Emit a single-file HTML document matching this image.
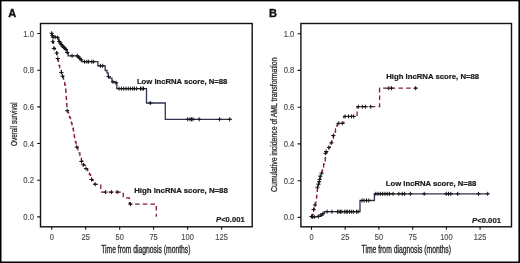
<!DOCTYPE html>
<html><head><meta charset="utf-8"><style>
html,body{margin:0;padding:0;background:#fff;}
body{width:520px;height:263px;overflow:hidden;position:relative;}
svg{position:absolute;left:0;top:0;will-change:transform;font-family:"Liberation Sans",sans-serif;}
</style></head><body>
<svg width="520" height="263" viewBox="0 0 520 263">
<rect x="40.5" y="23.5" width="211.7" height="203.3" fill="none" stroke="#111" stroke-width="1.4"/><path d="M37.2,216.9H40.5M37.2,180.2H40.5M37.2,143.5H40.5M37.2,106.9H40.5M37.2,70.2H40.5M37.2,33.5H40.5M51.7,226.8V229.8M85.7,226.8V229.8M119.7,226.8V229.8M153.6,226.8V229.8M187.6,226.8V229.8M221.6,226.8V229.8" stroke="#111" stroke-width="1.1" fill="none"/><g font-size="8.5" fill="#4a4a4a" stroke="#4a4a4a" stroke-width="0.15"><text transform="translate(33.9,219.9) scale(0.9,1)" text-anchor="end">0.0</text><text transform="translate(33.9,183.2) scale(0.9,1)" text-anchor="end">0.2</text><text transform="translate(33.9,146.5) scale(0.9,1)" text-anchor="end">0.4</text><text transform="translate(33.9,109.9) scale(0.9,1)" text-anchor="end">0.6</text><text transform="translate(33.9,73.2) scale(0.9,1)" text-anchor="end">0.8</text><text transform="translate(33.9,36.5) scale(0.9,1)" text-anchor="end">1.0</text><text transform="translate(51.7,239.5) scale(0.88,1)" text-anchor="middle">0</text><text transform="translate(85.7,239.5) scale(0.88,1)" text-anchor="middle">25</text><text transform="translate(119.7,239.5) scale(0.88,1)" text-anchor="middle">50</text><text transform="translate(153.6,239.5) scale(0.88,1)" text-anchor="middle">75</text><text transform="translate(187.6,239.5) scale(0.88,1)" text-anchor="middle">100</text><text transform="translate(221.6,239.5) scale(0.88,1)" text-anchor="middle">125</text></g><rect x="300.9" y="23.5" width="210.60000000000002" height="203.3" fill="none" stroke="#111" stroke-width="1.4"/><path d="M297.59999999999997,217.4H300.9M297.59999999999997,180.7H300.9M297.59999999999997,143.9H300.9M297.59999999999997,107.2H300.9M297.59999999999997,70.4H300.9M297.59999999999997,33.7H300.9M311.5,226.8V229.8M345.2,226.8V229.8M378.9,226.8V229.8M412.7,226.8V229.8M446.4,226.8V229.8M480.1,226.8V229.8" stroke="#111" stroke-width="1.1" fill="none"/><g font-size="8.5" fill="#4a4a4a" stroke="#4a4a4a" stroke-width="0.15"><text transform="translate(294.3,220.4) scale(0.9,1)" text-anchor="end">0.0</text><text transform="translate(294.3,183.7) scale(0.9,1)" text-anchor="end">0.2</text><text transform="translate(294.3,146.9) scale(0.9,1)" text-anchor="end">0.4</text><text transform="translate(294.3,110.2) scale(0.9,1)" text-anchor="end">0.6</text><text transform="translate(294.3,73.4) scale(0.9,1)" text-anchor="end">0.8</text><text transform="translate(294.3,36.7) scale(0.9,1)" text-anchor="end">1.0</text><text transform="translate(311.5,239.5) scale(0.88,1)" text-anchor="middle">0</text><text transform="translate(345.2,239.5) scale(0.88,1)" text-anchor="middle">25</text><text transform="translate(378.9,239.5) scale(0.88,1)" text-anchor="middle">50</text><text transform="translate(412.7,239.5) scale(0.88,1)" text-anchor="middle">75</text><text transform="translate(446.4,239.5) scale(0.88,1)" text-anchor="middle">100</text><text transform="translate(480.1,239.5) scale(0.88,1)" text-anchor="middle">125</text></g><path d="M51.8,33.3H52.4V35.3H53.0V37.2H57.9V38.6H58.6V40.3H59.5V42.0H60.5V43.6H61.5V45.0H62.6V46.4H64.0V47.6H65.3V48.8H66.4V49.8H67.0V51.5H67.5V53.3H68.2V55.8H77.9V57.0H79.2V58.4H80.5V59.8H81.8V61.7H97.9V65.8H105.2V70.5H107.0V72.8H108.2V76.6H109.8V78.1H112.0V81.9H115.0V82.7H116.8V88.6H146.5V103.0H165.3V119.3H231.5V119.3" stroke="#2f3550" stroke-width="1.3" fill="none"/><path d="M51.8,33.3H52.0V35.6H52.3V38.0H52.5V40.1H52.8V42.2H53.4V45.2H54.0V48.2H55.1V50.4H56.6V53.0H57.1V55.8H57.6V58.6H58.0V60.8H58.5V63.1H58.9V65.3H59.7V67.7H60.5V70.2H61.3V72.6H62.5V76.2H63.4V79.2H64.3V82.3H64.7V84.5H65.2V86.8H65.6V89.0H65.8V91.5H66.0V94.0H66.2V96.5H66.3V99.0H66.5V101.5H66.7V104.0H66.9V106.2H67.0V108.5H67.2V110.7H68.0V112.9H68.7V115.1H69.5V117.3H70.5V120.2H71.4V123.0H72.0V125.5H72.7V128.1H73.3V130.6H73.7V133.4H74.2V136.3H74.6V139.1H75.3V141.8H76.1V144.4H76.8V147.1H77.9V149.9H79.1V152.8H79.9V155.5H80.6V158.1H81.4V160.8H82.6V163.1H83.7V165.4H86.0V168.8H87.7V171.7H89.4V174.5H90.6V177.3H91.7V180.2H93.1V182.2H94.5V184.3H100.8V192.1H123.3V197.8H129.4V204.1H156.3V216.8" stroke="#85193c" stroke-width="1.3" fill="none" stroke-dasharray="4.5 3.2"/><path d="M311.5,216.8H316.5V216.8H318.3V216.3H321.0V215.0H322.9V213.6H324.3V211.7H360.0V200.5H374.4V193.8H488.5V193.8" stroke="#2f3550" stroke-width="1.3" fill="none"/><path d="M311.5,216.8H312.3V214.5H313.0V212.1H313.6V209.6H314.3V207.3H315.0V205.0H315.5V202.3H316.0V199.7H316.5V197.0H316.8V194.1H317.0V191.3H317.3V188.4H317.9V186.3H318.5V184.2H319.1V181.8H319.7V179.3H320.3V176.2H321.6V172.6H322.2V169.8H322.8V167.0H323.6V164.0H324.5V161.0H325.2V158.0H325.5V155.0H325.9V152.0H327.4V149.7H328.9V147.4H330.1V145.2H331.3V142.9H332.0V140.6H332.6V138.3H333.3V136.0H333.9V134.0H334.5V132.0H335.5V129.0H336.5V126.0H337.3V123.3H343.8V116.4H357.1V106.7H379.6V88.2H417.3V88.2" stroke="#85193c" stroke-width="1.3" fill="none" stroke-dasharray="4.5 3.2"/><path d="M51.6,31.3V35.3M49.5,33.3H53.7M52.4,33.5V37.5M50.3,35.5H54.5M53.0,35.2V39.2M50.9,37.2H55.1M55.2,35.2V39.2M53.1,37.2H57.3M57.6,35.6V39.6M55.5,37.6H59.7M59.3,39.5V43.5M57.2,41.5H61.4M60.3,41.0V45.0M58.2,43.0H62.4M61.3,42.6V46.6M59.2,44.6H63.4M62.4,44.0V48.0M60.3,46.0H64.5M63.6,45.2V49.2M61.5,47.2H65.7M64.9,46.4V50.4M62.8,48.4H67.0M66.0,47.5V51.5M63.9,49.5H68.1M67.2,50.5V54.5M65.1,52.5H69.3M72.1,53.8V57.8M70.0,55.8H74.2M77.3,53.8V57.8M75.2,55.8H79.4M78.5,55.0V59.0M76.4,57.0H80.6M79.8,56.4V60.4M77.7,58.4H81.9M81.2,57.8V61.8M79.1,59.8H83.3M84.5,59.7V63.7M82.4,61.7H86.6M86.8,59.7V63.7M84.7,61.7H88.9M88.6,59.7V63.7M86.5,61.7H90.7M91.8,59.7V63.7M89.7,61.7H93.9M93.6,59.7V63.7M91.5,61.7H95.7M100.4,63.8V67.8M98.3,65.8H102.5M102.7,63.8V67.8M100.6,65.8H104.8M108.5,74.6V78.6M106.4,76.6H110.6M113.0,79.9V83.9M110.9,81.9H115.1M116.0,80.7V84.7M113.9,82.7H118.1M119.0,86.6V90.6M116.9,88.6H121.1M121.4,86.6V90.6M119.3,88.6H123.5M123.7,86.6V90.6M121.6,88.6H125.8M126.0,86.6V90.6M123.9,88.6H128.1M128.3,86.6V90.6M126.2,88.6H130.4M130.6,86.6V90.6M128.5,88.6H132.7M132.8,86.6V90.6M130.7,88.6H134.9M134.4,86.6V90.6M132.3,88.6H136.5M136.6,86.6V90.6M134.5,88.6H138.7M140.5,86.6V90.6M138.4,88.6H142.6M142.0,86.6V90.6M139.9,88.6H144.1M143.5,86.6V90.6M141.4,88.6H145.6M150.3,101.0V105.0M148.2,103.0H152.4M187.7,117.3V121.3M185.6,119.3H189.8M190.0,117.3V121.3M187.9,119.3H192.1M191.5,117.3V121.3M189.4,119.3H193.6M193.0,117.3V121.3M190.9,119.3H195.1M199.2,117.3V121.3M197.1,119.3H201.3M219.6,117.3V121.3M217.5,119.3H221.7M229.7,117.3V121.3M227.6,119.3H231.8" stroke="#151515" stroke-width="1.0" fill="none"/><path d="M52.8,39.7V43.7M50.7,41.7H54.9M54.0,46.5V50.5M51.9,48.5H56.1M56.6,51.0V55.0M54.5,53.0H58.7M57.8,56.5V60.5M55.7,58.5H59.9M61.3,70.6V74.6M59.2,72.6H63.4M62.5,74.2V78.2M60.4,76.2H64.6M67.2,108.7V112.7M65.1,110.7H69.3M76.8,145.1V149.1M74.7,147.1H78.9M81.4,159.5V163.5M79.3,161.5H83.5M83.2,162.8V166.8M81.1,164.8H85.3M86.0,166.6V170.6M83.9,168.6H88.1M91.5,177.5V181.5M89.4,179.5H93.6M95.2,182.3V186.3M93.1,184.3H97.3M105.6,190.1V194.1M103.5,192.1H107.7M111.4,190.1V194.1M109.3,192.1H113.5M117.2,190.1V194.1M115.1,192.1H119.3M130.5,202.1V206.1M128.4,204.1H132.6" stroke="#151515" stroke-width="1.0" fill="none"/><path d="M311.5,214.5V218.5M309.4,216.5H313.6M312.5,214.8V218.8M310.4,216.8H314.6M314.3,214.8V218.8M312.2,216.8H316.4M318.3,214.3V218.3M316.2,216.3H320.4M321.0,213.0V217.0M318.9,215.0H323.1M322.9,211.6V215.6M320.8,213.6H325.0M327.1,209.7V213.7M325.0,211.7H329.2M331.9,209.7V213.7M329.8,211.7H334.0M337.6,209.7V213.7M335.5,211.7H339.7M339.0,209.7V213.7M336.9,211.7H341.1M340.5,209.7V213.7M338.4,211.7H342.6M341.9,209.7V213.7M339.8,211.7H344.0M344.7,209.7V213.7M342.6,211.7H346.8M346.2,209.7V213.7M344.1,211.7H348.3M347.6,209.7V213.7M345.5,211.7H349.7M349.5,209.7V213.7M347.4,211.7H351.6M351.4,209.7V213.7M349.3,211.7H353.5M353.3,209.7V213.7M351.2,211.7H355.4M356.6,209.7V213.7M354.5,211.7H358.7M358.1,209.7V213.7M356.0,211.7H360.2M362.0,198.5V202.5M359.9,200.5H364.1M364.0,198.5V202.5M361.9,200.5H366.1M366.5,198.5V202.5M364.4,200.5H368.6M368.8,198.5V202.5M366.7,200.5H370.9M375.8,191.8V195.8M373.7,193.8H377.9M378.0,191.8V195.8M375.9,193.8H380.1M380.4,191.8V195.8M378.3,193.8H382.5M382.7,191.8V195.8M380.6,193.8H384.8M385.0,191.8V195.8M382.9,193.8H387.1M387.3,191.8V195.8M385.2,193.8H389.4M389.6,191.8V195.8M387.5,193.8H391.7M393.0,191.8V195.8M390.9,193.8H395.1M398.8,191.8V195.8M396.7,193.8H400.9M402.3,191.8V195.8M400.2,193.8H404.4M404.6,191.8V195.8M402.5,193.8H406.7M410.4,191.8V195.8M408.3,193.8H412.5M424.2,191.8V195.8M422.1,193.8H426.3M446.2,191.8V195.8M444.1,193.8H448.3M448.5,191.8V195.8M446.4,193.8H450.6M450.8,191.8V195.8M448.7,193.8H452.9M457.7,191.8V195.8M455.6,193.8H459.8M478.5,191.8V195.8M476.4,193.8H480.6M487.7,191.8V195.8M485.6,193.8H489.8" stroke="#151515" stroke-width="1.0" fill="none"/><path d="M313.6,207.6V211.6M311.5,209.6H315.7M315.0,203.0V207.0M312.9,205.0H317.1M317.5,185.2V189.2M315.4,187.2H319.6M318.5,182.2V186.2M316.4,184.2H320.6M319.1,179.7V183.7M317.0,181.7H321.2M319.7,177.3V181.3M317.6,179.3H321.8M320.3,174.2V178.2M318.2,176.2H322.4M321.6,171.2V175.2M319.5,173.2H323.7M325.4,151.3V155.3M323.3,153.3H327.5M326.2,149.5V153.5M324.1,151.5H328.3M328.9,145.4V149.4M326.8,147.4H331.0M331.3,140.9V144.9M329.2,142.9H333.4M333.3,133.5V137.5M331.2,135.5H335.4M338.8,121.3V125.3M336.7,123.3H340.9M342.3,121.3V125.3M340.2,123.3H344.4M345.1,114.4V118.4M343.0,116.4H347.2M348.5,114.4V118.4M346.4,116.4H350.6M351.4,114.4V118.4M349.3,116.4H353.5M353.7,114.4V118.4M351.6,116.4H355.8M358.3,104.7V108.7M356.2,106.7H360.4M362.3,104.7V108.7M360.2,106.7H364.4M365.3,104.7V108.7M363.2,106.7H367.4M370.7,104.7V108.7M368.6,106.7H372.8M388.8,86.2V90.2M386.7,88.2H390.9M391.5,86.2V90.2M389.4,88.2H393.6M415.6,86.2V90.2M413.5,88.2H417.7" stroke="#151515" stroke-width="1.0" fill="none"/><g font-weight="bold" font-size="7.9" fill="#1a1a1a" stroke="#1a1a1a" stroke-width="0.22"><text x="136.9" y="83.8" textLength="90.4" lengthAdjust="spacingAndGlyphs">Low lncRNA score, N=88</text><text x="134.2" y="193.3" textLength="93.6" lengthAdjust="spacingAndGlyphs">High lncRNA score, N=88</text><text x="386.2" y="79.4" textLength="93" lengthAdjust="spacingAndGlyphs">High lncRNA score, N=88</text><text x="385.8" y="186.3" textLength="90.5" lengthAdjust="spacingAndGlyphs">Low lncRNA score, N=88</text><text x="216.1" y="221.8" textLength="28.6" lengthAdjust="spacingAndGlyphs"><tspan font-style="italic">P</tspan>&lt;0.001</text><text x="472" y="222.8" textLength="29" lengthAdjust="spacingAndGlyphs"><tspan font-style="italic">P</tspan>&lt;0.001</text></g><g font-weight="bold" font-size="11" fill="#111" stroke="#111" stroke-width="0.35"><text x="8.2" y="16.6">A</text><text x="269.1" y="16.6">B</text></g><g font-size="10" fill="#2a2a2a" stroke="#2a2a2a" stroke-width="0.35"><text x="101.2" y="253.3" textLength="89.3" lengthAdjust="spacingAndGlyphs">Time from diagnosis (months)</text><text x="361.5" y="253.3" textLength="89.5" lengthAdjust="spacingAndGlyphs">Time from diagnosis (months)</text></g><g font-size="9.2" fill="#2a2a2a" stroke="#2a2a2a" stroke-width="0.28"><text transform="translate(16.7,146) rotate(-90)" textLength="43.6" lengthAdjust="spacingAndGlyphs">Overall survival</text><text transform="translate(277.3,191.9) rotate(-90)" textLength="134.4" lengthAdjust="spacingAndGlyphs">Cumulative incidence of AML transformation</text></g>
</svg>
<svg width="520" height="263" shape-rendering="crispEdges"><rect x="0" y="0" width="520" height="1" fill="#000"/><rect x="0" y="1" width="520" height="1" fill="#000" fill-opacity="0.35"/><rect x="0" y="262" width="520" height="1" fill="#000"/><rect x="0" y="261" width="520" height="1" fill="#000" fill-opacity="0.5"/><rect x="0" y="0" width="1" height="263" fill="#000"/><rect x="1" y="1" width="1" height="261" fill="#000" fill-opacity="0.5"/><rect x="519" y="0" width="1" height="263" fill="#000"/><rect x="518" y="1" width="1" height="261" fill="#000" fill-opacity="0.6"/></svg>
</body></html>
